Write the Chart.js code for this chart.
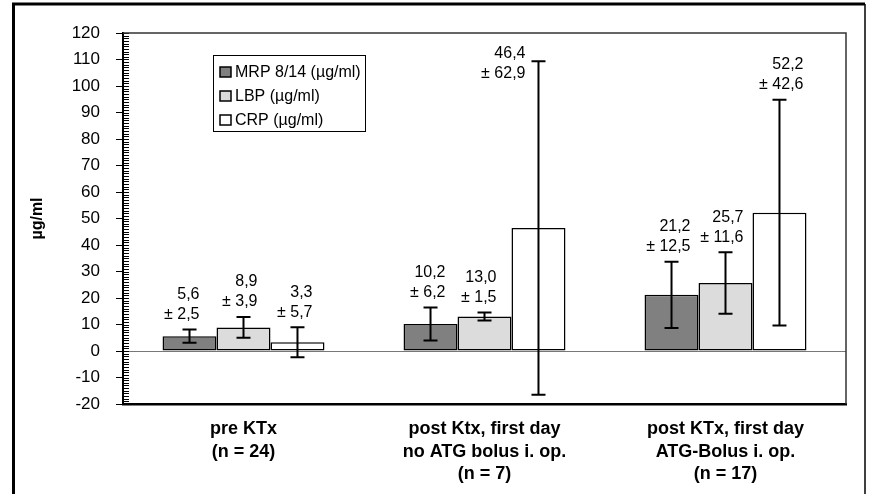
<!DOCTYPE html>
<html>
<head>
<meta charset="utf-8">
<script src="https://cdn.jsdelivr.net/npm/chart.js@4.4.1/dist/chart.umd.min.js"></script>
<style>
  html, body { margin: 0; padding: 0; background: #fff; }
</style>
</head>
<body>
<canvas id="chart" width="869" height="494"></canvas>
<script>
// ---- data ----
const categories = [
  ['pre KTx', '(n = 24)'],
  ['post Ktx, first day', 'no ATG bolus i. op.', '(n = 7)'],
  ['post KTx, first day', 'ATG-Bolus i. op.', '(n = 17)']
];
const seriesNames = ['MRP 8/14 (µg/ml)', 'LBP (µg/ml)', 'CRP (µg/ml)'];
const mrpMean = [5.6, 10.2, 21.2];
const mrpSd   = [2.5, 6.2, 12.5];
const lbpMean = [8.9, 13.0, 25.7];
const lbpSd   = [3.9, 1.5, 11.6];
const crpMean = [3.3, 46.4, 52.2];
const crpSd   = [5.7, 62.9, 42.6];
const yMin = -20, yMax = 120, yStep = 10;
const yTitle = 'µg/ml';

const FONT = '"Liberation Sans", Arial, Helvetica, sans-serif';
const fills = ['#808080', '#dcdcdc', '#ffffff'];
const sds = [mrpSd, lbpSd, crpSd];

// label placement (style only): right edge offset from bar centre, vertical shift
const labelDx = [[10, 15, 19], [14, 12, 18], [15, -13, 24]];
const labelDy = [[0, 0, 0], [0, 0, 0], [0, 27, 0]];

const fmt = v => v.toFixed(1).replace('.', ',');

const decor = {
  id: 'decor',
  beforeDraw(chart) {
    const ctx = chart.ctx;
    ctx.save();
    ctx.fillStyle = '#fff';
    ctx.fillRect(0, 0, chart.width, chart.height);
    ctx.restore();
  },
  afterDatasetsDraw(chart) {
    const ctx = chart.ctx;
    const ys = chart.scales.y;
    const area = chart.chartArea;
    ctx.save();

    // error bars + value labels
    chart.data.datasets.forEach((ds, di) => {
      const meta = chart.getDatasetMeta(di);
      meta.data.forEach((bar, i) => {
        const m = ds.data[i], s = sds[di][i];
        const top = ys.getPixelForValue(m + s);
        const bot = ys.getPixelForValue(m - s);
        const x = bar.x;
        ctx.strokeStyle = '#000';
        ctx.lineWidth = 2;
        ctx.beginPath();
        ctx.moveTo(x, top); ctx.lineTo(x, bot);
        ctx.moveTo(x - 7, top); ctx.lineTo(x + 7, top);
        ctx.moveTo(x - 7, bot); ctx.lineTo(x + 7, bot);
        ctx.stroke();

        ctx.fillStyle = '#000';
        ctx.font = '16px ' + FONT;
        ctx.textAlign = 'right';
        ctx.textBaseline = 'middle';
        const tx = x + labelDx[di][i];
        const l2 = top - 15 + labelDy[di][i];
        ctx.fillText(fmt(m), tx, l2 - 20);
        ctx.fillText('± ' + fmt(s), tx, l2);
      });
    });

    // minor ticks inside the left axis
    ctx.strokeStyle = '#000';
    ctx.lineWidth = 1;
    ctx.beginPath();
    for (let v = yMin; v <= yMax; v++) {
      const py = Math.round(ys.getPixelForValue(v)) + 0.5;
      ctx.moveTo(area.left, py); ctx.lineTo(area.left + 6, py);
    }
    ctx.stroke();

    // top and right frame of plot area
    ctx.strokeStyle = '#333';
    ctx.lineWidth = 1.5;
    ctx.beginPath();
    ctx.moveTo(area.left, area.top);
    ctx.lineTo(area.right, area.top);
    ctx.lineTo(area.right, area.bottom);
    ctx.stroke();

    // legend
    const lx = 213, ly = 55, lw = 152, lh = 76;
    ctx.fillStyle = '#fff';
    ctx.fillRect(lx, ly, lw, lh);
    ctx.strokeStyle = '#000';
    ctx.lineWidth = 1;
    ctx.strokeRect(lx + 0.5, ly + 0.5, lw, lh);
    chart.data.datasets.forEach((ds, di) => {
      const cy = 72 + di * 24;
      ctx.fillStyle = ds.backgroundColor;
      ctx.fillRect(220, cy - 5, 11, 10);
      ctx.lineWidth = 1.5;
      ctx.strokeRect(220, cy - 5, 11, 10);
      ctx.fillStyle = '#000';
      ctx.font = '16px ' + FONT;
      ctx.textAlign = 'left';
      ctx.textBaseline = 'middle';
      ctx.fillText(ds.label, 235, cy + 1);
    });

    // y title
    ctx.save();
    ctx.translate(38, (area.top + area.bottom) / 2);
    ctx.rotate(-Math.PI / 2);
    ctx.font = 'bold 16px ' + FONT;
    ctx.textAlign = 'center';
    ctx.textBaseline = 'middle';
    ctx.fillStyle = '#000';
    ctx.fillText(yTitle, 0, 0);
    ctx.restore();

    // outer frame (open at the bottom)
    ctx.strokeStyle = '#000';
    ctx.beginPath();
    ctx.lineWidth = 3;
    ctx.moveTo(13.5, chart.height);
    ctx.lineTo(13.5, 4);
    ctx.lineTo(865, 4);
    ctx.stroke();
    ctx.beginPath();
    ctx.lineWidth = 1.5;
    ctx.moveTo(865, 4);
    ctx.lineTo(865, chart.height);
    ctx.stroke();

    ctx.restore();
  }
};

new Chart(document.getElementById('chart'), {
  type: 'bar',
  data: {
    labels: categories,
    datasets: [
      { label: seriesNames[0], data: mrpMean, backgroundColor: fills[0] },
      { label: seriesNames[1], data: lbpMean, backgroundColor: fills[1] },
      { label: seriesNames[2], data: crpMean, backgroundColor: fills[2] }
    ]
  },
  options: {
    responsive: false,
    animation: false,
    devicePixelRatio: 1,
    layout: { padding: { left: 0, top: 33, right: 23, bottom: 0 } },
    datasets: {
      bar: {
        borderColor: '#000',
        borderWidth: 1.5,
        borderSkipped: false,
        categoryPercentage: 0.672,
        barPercentage: 1
      }
    },
    plugins: {
      legend: { display: false },
      tooltip: { enabled: false }
    },
    scales: {
      x: {
        grid: { display: false },
        border: { display: true, color: '#000', width: 2.5 },
        ticks: {
          color: '#000',
          padding: 6,
          maxRotation: 0,
          font: { family: FONT, size: 18, weight: 'bold', lineHeight: 1.25 }
        },
        afterFit: s => { s.height = 90; }
      },
      y: {
        min: yMin,
        max: yMax,
        grid: {
          color: c => (c.tick && c.tick.value === 0 ? '#777' : 'rgba(0,0,0,0)'),
          lineWidth: 1,
          tickColor: '#000',
          tickLength: 7,
          drawTicks: true
        },
        border: { display: true, color: '#000', width: 2 },
        ticks: {
          stepSize: yStep,
          color: '#000',
          padding: 16,
          font: { family: FONT, size: 17 },
          callback: v => String(v)
        },
        afterFit: s => { s.width = 123; }
      }
    }
  },
  plugins: [decor]
});
</script>
</body>
</html>
